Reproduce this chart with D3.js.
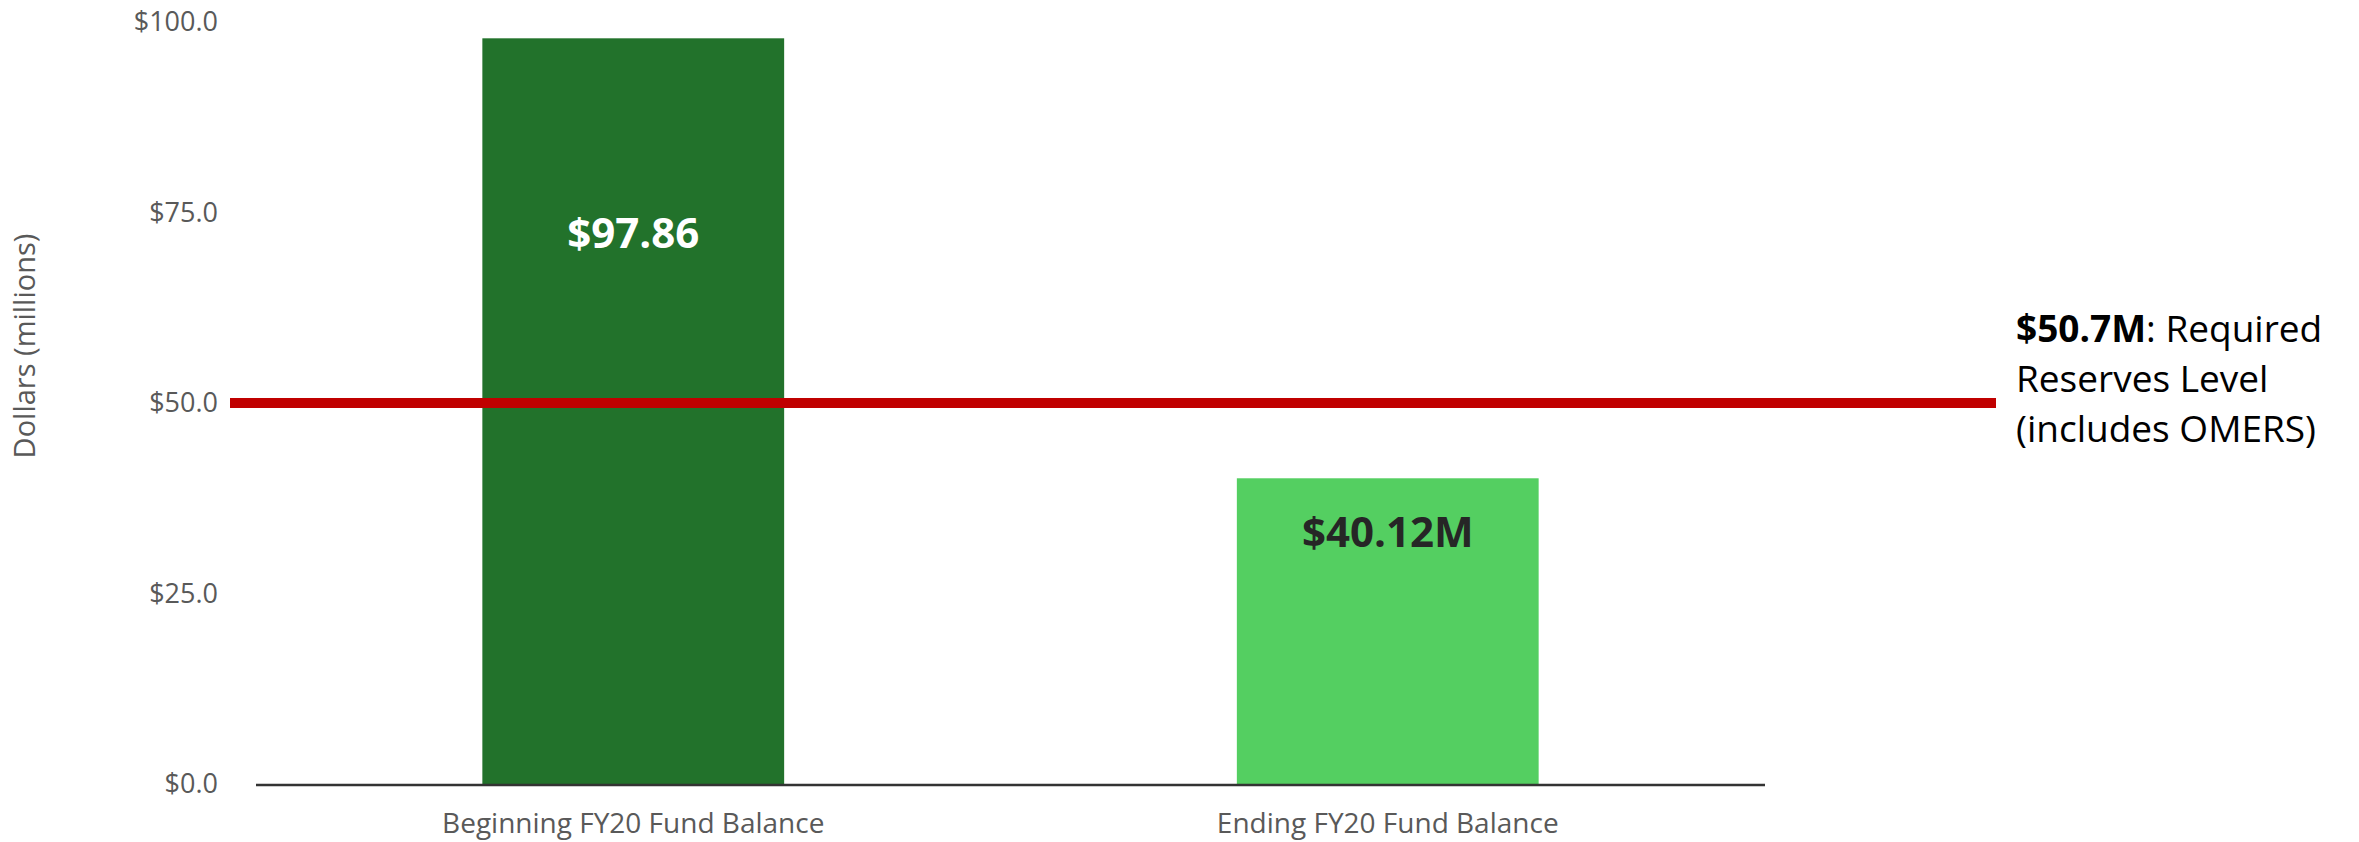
<!DOCTYPE html>
<html>
<head>
<meta charset="utf-8">
<script src="https://cdn.jsdelivr.net/npm/d3@7"></script>
<style>
  body { margin: 0; background: #fff; }
  svg { display: block; font-family: "Open Sans", sans-serif; }
</style>
</head>
<body>
<div id="chart"></div>
<script>
const categories = ["Beginning FY20 Fund Balance", "Ending FY20 Fund Balance"];
const values = [97.86, 40.12];
const barLabels = ["$97.86", "$40.12M"];
const barColors = ["#22722b", "#54cf61"];
const labelColors = ["#ffffff", "#262626"];
const yTicks = [0, 25, 50, 75, 100];
const reserveLevel = 50;
const reserveText = [["$50.7M", ": Required"], ["", "Reserves Level"], ["", "(includes OMERS)"]];

const width = 2359;
const height = 842;

const margin = { top: 22, right: 594, bottom: 58, left: 256 };

const svg = d3.select("#chart")
    .append("svg")
    .attr("width", width)
    .attr("height", height);

const x = d3.scaleBand()
    .domain(categories)
    .range([margin.left, width - margin.right])
    .paddingInner(0.6)
    .paddingOuter(0.3);

const y = d3.scaleLinear()
    .domain([0, 100])
    .range([height - margin.bottom, margin.top]);

// y tick labels only, no axis line
svg.append("g")
    .selectAll("text")
    .data(yTicks)
    .join("text")
    .attr("x", 218)
    .attr("y", d => y(d))
    .attr("dy", "0.35em")
    .attr("text-anchor", "end")
    .attr("fill", "#595959")
    .style("font-size", "27px")
    .text(d => "$" + d3.format(".1f")(d));

// axis title
svg.append("text")
    .attr("transform", `translate(35, 346) rotate(-90)`)
    .attr("text-anchor", "middle")
    .attr("fill", "#595959")
    .style("font-size", "29px")
    .text("Dollars (millions)");

// bars
svg.append("g")
    .selectAll("rect")
    .data(categories)
    .join("rect")
    .attr("x", d => x(d))
    .attr("y", (d, i) => y(values[i]))
    .attr("width", x.bandwidth())
    .attr("height", (d, i) => y(0) - y(values[i]))
    .attr("fill", (d, i) => barColors[i]);

// baseline
svg.append("line")
    .attr("x1", margin.left)
    .attr("x2", width - margin.right)
    .attr("y1", y(0) + 1)
    .attr("y2", y(0) + 1)
    .attr("stroke", "#333")
    .attr("stroke-width", 2.5);

// category labels
svg.append("g")
    .selectAll("text")
    .data(categories)
    .join("text")
    .attr("x", d => x(d) + x.bandwidth() / 2)
    .attr("y", y(0) + 49)
    .attr("text-anchor", "middle")
    .attr("fill", "#595959")
    .style("font-size", "28px")
    .text(d => d);

// value labels inside bars
svg.append("g")
    .selectAll("text")
    .data(categories)
    .join("text")
    .attr("x", d => x(d) + x.bandwidth() / 2)
    .attr("y", (d, i) => y(values[i]) + (i === 0 ? 210 : 69))
    .attr("text-anchor", "middle")
    .attr("fill", (d, i) => labelColors[i])
    .style("font-size", "42px")
    .style("font-weight", "bold")
    .text((d, i) => barLabels[i]);

// required reserves line
svg.append("line")
    .attr("x1", 230)
    .attr("x2", 1996)
    .attr("y1", y(reserveLevel))
    .attr("y2", y(reserveLevel))
    .attr("stroke", "#c00000")
    .attr("stroke-width", 10);

const note = svg.append("text")
    .attr("fill", "#000")
    .style("font-size", "37px");

reserveText.forEach((parts, i) => {
    const line = note.append("tspan")
        .attr("x", 2016)
        .attr("y", 342 + i * 50);
    if (parts[0]) line.append("tspan").style("font-weight", "bold").text(parts[0]);
    line.append("tspan").text(parts[1]);
});
</script>
</body>
</html>
